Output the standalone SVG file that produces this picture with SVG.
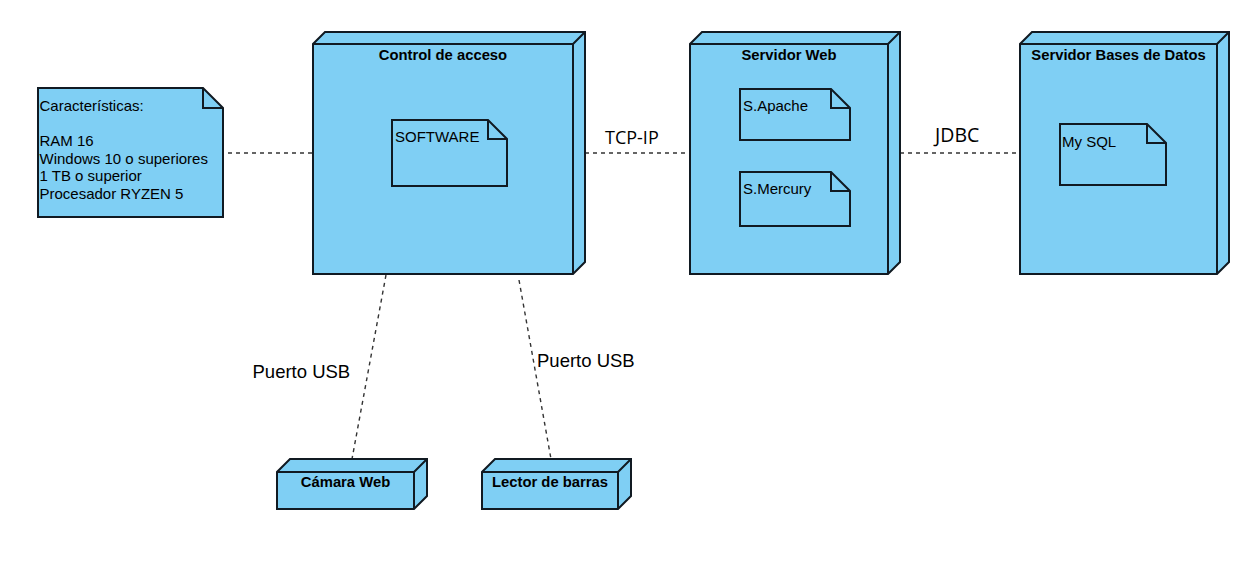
<svg xmlns="http://www.w3.org/2000/svg" width="1247" height="563" viewBox="0 0 1247 563">
<style>
.node{fill:#7fcff4;stroke:#111a22;stroke-width:2;stroke-linejoin:miter}
.edge{fill:none;stroke:#111a22;stroke-width:2}
.title{font-family:"Liberation Sans",Arial,sans-serif;font-weight:bold;font-size:14.8px;fill:#000;text-anchor:middle}
.txt{font-family:"Liberation Sans",Arial,sans-serif;font-size:15px;fill:#000}
.conn{fill:none;stroke:#333;stroke-width:1.4;stroke-dasharray:4 4}
.lbl{font-family:"Liberation Sans",Arial,sans-serif;font-size:18.5px;fill:#000}
.lbl2{font-family:"Open Sans","Noto Sans",sans-serif;fill:#000}
</style>
<rect width="1247" height="563" fill="#fff"/>
<g id="connectors">
<line class="conn" x1="228" y1="153" x2="313" y2="153"/>
<line class="conn" x1="585" y1="153" x2="690" y2="153"/>
<line class="conn" x1="900" y1="153" x2="1020" y2="153"/>
<line class="conn" x1="386" y1="275" x2="352" y2="459"/>
<line class="conn" x1="519" y1="280" x2="551" y2="459"/>
<text class="lbl2" x="605" y="144" font-size="18">TCP-IP</text>
<text class="lbl2" x="935" y="142" font-size="19.5">JDBC</text>
<text class="lbl" x="252.5" y="377.5">Puerto USB</text>
<text class="lbl" x="537" y="367">Puerto USB</text>
</g>
<g id="note-caracteristicas">
<path class="node" d="M38,88 L203,88 L223,108 L223,217 L38,217 Z"/>
<path class="edge" d="M203,88 L203,108 L223,108" stroke-width="1.5"/>
<text class="txt" x="39.5" y="111">Características:</text>
<text class="txt" x="39.5" y="146.2">RAM 16</text>
<text class="txt" x="39.5" y="163.8">Windows 10 o superiores</text>
<text class="txt" x="39.5" y="181.4">1 TB o superior</text>
<text class="txt" x="39.5" y="199">Procesador RYZEN 5</text>
</g>
<g id="control-acceso">
<path class="node" d="M313,274 L313,44 L325,32 L585,32 L585,262 L573,274 Z"/>
<path class="edge" d="M313,44 L573,44 L573,274 M573,44 L585,32"/>
<text class="title" x="443" y="60">Control de acceso</text>
<g id="software">
<path class="node" d="M392,120 L488,120 L507,139 L507,186 L392,186 Z"/>
<path class="edge" d="M488,120 L488,139 L507,139"/>
<text class="txt" x="395" y="141.7">SOFTWARE</text>
</g>
</g>
<g id="servidor-web">
<path class="node" d="M690,274 L690,44 L702,32 L900,32 L900,262 L888,274 Z"/>
<path class="edge" d="M690,44 L888,44 L888,274 M888,44 L900,32"/>
<text class="title" x="789" y="60">Servidor Web</text>
<g id="apache">
<path class="node" d="M740,89 L831,89 L850,108 L850,140 L740,140 Z"/>
<path class="edge" d="M831,89 L831,108 L850,108"/>
<text class="txt" x="743" y="111">S.Apache</text>
</g>
<g id="mercury">
<path class="node" d="M740,172 L831,172 L850,191 L850,226 L740,226 Z"/>
<path class="edge" d="M831,172 L831,191 L850,191"/>
<text class="txt" x="743" y="194">S.Mercury</text>
</g>
</g>
<g id="servidor-bd">
<path class="node" d="M1020,274 L1020,44 L1032,32 L1229,32 L1229,262 L1217,274 Z"/>
<path class="edge" d="M1020,44 L1217,44 L1217,274 M1217,44 L1229,32"/>
<text class="title" x="1118.5" y="60">Servidor Bases de Datos</text>
<g id="mysql">
<path class="node" d="M1060,124 L1147,124 L1166,143 L1166,185 L1060,185 Z"/>
<path class="edge" d="M1147,124 L1147,143 L1166,143"/>
<text class="txt" x="1062" y="147">My SQL</text>
</g>
</g>
<g id="camara-web">
<path class="node" d="M277,509 L277,472 L290,459 L427,459 L427,496 L414,509 Z"/>
<path class="edge" d="M277,472 L414,472 L414,509 M414,472 L427,459"/>
<text class="title" x="345.5" y="487">Cámara Web</text>
</g>
<g id="lector-barras">
<path class="node" d="M482,509 L482,472 L495,459 L631,459 L631,496 L618,509 Z"/>
<path class="edge" d="M482,472 L618,472 L618,509 M618,472 L631,459"/>
<text class="title" x="550" y="487">Lector de barras</text>
</g>
</svg>
